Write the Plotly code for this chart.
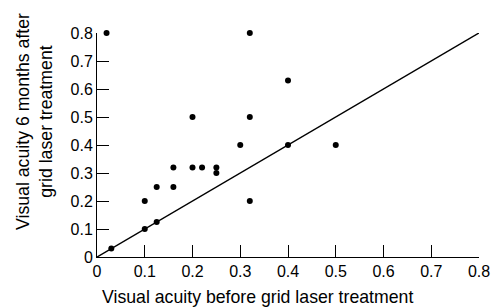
import plotly.graph_objects as go

# Data
before = [0.02, 0.03, 0.10, 0.10, 0.125, 0.125, 0.16, 0.16, 0.20, 0.20,
          0.22, 0.25, 0.25, 0.30, 0.32, 0.32, 0.32, 0.40, 0.40, 0.50]
after = [0.80, 0.03, 0.20, 0.10, 0.25, 0.125, 0.32, 0.25, 0.50, 0.32,
         0.32, 0.32, 0.30, 0.40, 0.80, 0.50, 0.20, 0.63, 0.40, 0.40]
identity_x = [0, 0.8]
identity_y = [0, 0.8]
tick_vals = [0, 0.1, 0.2, 0.3, 0.4, 0.5, 0.6, 0.7, 0.8]
tick_text = ["0", "0.1", "0.2", "0.3", "0.4", "0.5", "0.6", "0.7", "0.8"]

FONT = "Liberation Sans, Arial, Helvetica, sans-serif"

fig = go.Figure()
fig.add_trace(go.Scatter(x=identity_x, y=identity_y, mode="lines",
                         line=dict(color="black", width=1.5),
                         hoverinfo="skip", showlegend=False))
fig.add_trace(go.Scatter(x=before, y=after, mode="markers",
                         marker=dict(color="black", size=6),
                         showlegend=False, cliponaxis=False))

axis_common = dict(
    range=[0, 0.8], tickvals=tick_vals, ticktext=tick_text,
    showline=True, linecolor="black", linewidth=1,
    ticks="inside", ticklen=12, tickwidth=1, tickcolor="black",
    showgrid=False, zeroline=False, automargin=False,
    tickfont=dict(family=FONT, size=16, color="black"),
    fixedrange=True,
)

fig.update_layout(
    width=492, height=308, autosize=False,
    margin=dict(l=97, r=13, t=33, b=51),
    paper_bgcolor="white", plot_bgcolor="white",
    xaxis=axis_common,
    yaxis=axis_common,
    font=dict(family=FONT, color="black"),
    annotations=[
        dict(text="Visual acuity before grid laser treatment",
             xref="paper", yref="paper", x=0.42, y=-0.179,
             xanchor="center", yanchor="middle", showarrow=False,
             font=dict(family=FONT, size=17.7, color="black")),
        dict(text="Visual acuity 6 months after<br>grid laser treatment",
             xref="paper", yref="paper", x=-0.165, y=0.607,
             xanchor="center", yanchor="middle", showarrow=False,
             textangle=-90,
             font=dict(family=FONT, size=17.7, color="black")),
    ],
)

fig.write_html("out.html",
               config={"displayModeBar": False, "responsive": False},
               post_script="document.body.style.margin='0';"
                           "document.body.style.overflow='hidden';"
                           "document.documentElement.style.overflow='hidden';")
